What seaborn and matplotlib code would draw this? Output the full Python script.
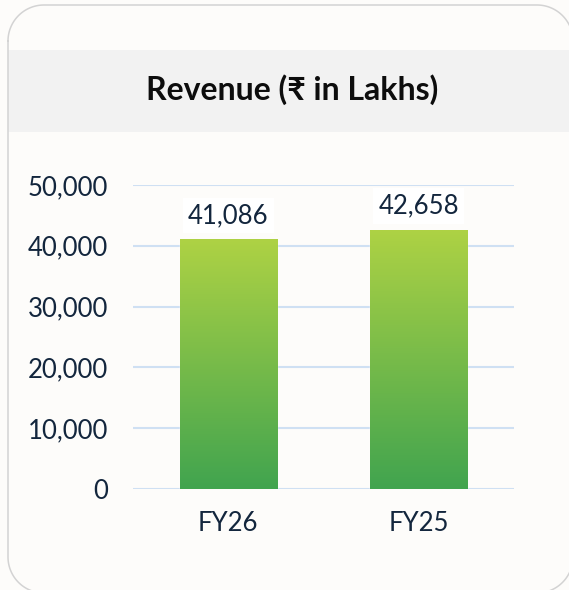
import numpy as np
import pandas as pd
import matplotlib
matplotlib.use("Agg")
import matplotlib.pyplot as plt
import seaborn as sns
from matplotlib.patches import Rectangle
from matplotlib.colors import LinearSegmentedColormap

categories = ["FY26", "FY25"]
revenue = [41086, 42658]
yticks = [0, 10000, 20000, 30000, 40000, 50000]
title = "Revenue (₹ in Lakhs)"

sns.set_theme(style="white")
plt.rcParams['font.family'] = ['Lato', 'DejaVu Sans']

TXT = "#13263d"
W, H = 569, 590
fig = plt.figure(figsize=(W / 100, H / 100), dpi=100)
fig.patch.set_facecolor("#fdfcfa")

# background axes in pixel units (y downwards)
bg = fig.add_axes([0, 0, 1, 1])
bg.set_xlim(0, W)
bg.set_ylim(H, 0)
bg.axis("off")
bg.add_patch(Rectangle((8.5, 50), W, 82, facecolor="#f2f2f2",
                       edgecolor="none", zorder=1))

# rounded card outline built from line segments and arcs
L, T, R, B, r = 8, 5, 573, 593, 36
def arc(cx, cy, a0, a1):
    t = np.radians(np.linspace(a0, a1, 30))
    return cx + r * np.cos(t), cy + r * np.sin(t)
xs, ys = [], []
for (cx, cy, a0, a1) in [(L + r, T + r, 180, 270), (R - r, T + r, 270, 360),
                         (R - r, B - r, 0, 90), (L + r, B - r, 90, 180)]:
    ax_, ay_ = arc(cx, cy, a0, a1)
    xs.extend(ax_)
    ys.extend(ay_)
xs.append(xs[0])
ys.append(ys[0])
bg.plot(xs, ys, color="#d3d3d3", lw=1.1, zorder=2, clip_on=False)

bg.text(292, 90, title, ha="center", va="center",
        fontsize=23, fontweight="bold", color="#0d0d0d")

ax = fig.add_axes([133 / W, (H - 489) / H, 381 / W, 304 / H])
ax.set_facecolor("none")
df = pd.DataFrame({"cat": categories, "rev": revenue})
sns.barplot(data=df, x="cat", y="rev", ax=ax, width=0.51,
            color="#7cbf4a", saturation=1, zorder=3)

ax.set_xlim(-0.5, 1.5)
ax.set_ylim(0, 50000)
ax.set_yticks(yticks)
ax.set_yticklabels([f"{v:,}" for v in yticks])
ax.set_xlabel("")
ax.set_ylabel("")
for s in ax.spines.values():
    s.set_visible(False)
ax.grid(axis="y", color="#cfe0f3", linewidth=1.5, zorder=1)
ax.set_axisbelow(True)
ax.tick_params(axis="y", length=0, pad=18, labelsize=18.5, labelcolor=TXT)
ax.tick_params(axis="x", length=0, pad=16, labelsize=18.5, labelcolor=TXT)

# gradient fill
cmap = LinearSegmentedColormap.from_list("g", ["#41a44f", "#aed244"])
grad = np.linspace(0, 1, 256).reshape(-1, 1)
for p in list(ax.patches):
    x0, w, h = p.get_x(), p.get_width(), p.get_height()
    im = ax.imshow(grad, cmap=cmap, origin="lower", aspect="auto",
                   extent=[x0, x0 + w, 0, h], zorder=4)
    im.set_clip_path(p)
    ax.annotate(f"{int(round(h)):,}", (x0 + w / 2, h), xytext=(0, 17),
                textcoords="offset points", ha="center", va="center",
                fontsize=18.5, color=TXT, zorder=6,
                bbox=dict(boxstyle="square,pad=0.2", fc="white", ec="none"))
ax.set_xlim(-0.5, 1.5)
ax.set_ylim(0, 50000)

fig.savefig("out.png", dpi=100, facecolor=fig.get_facecolor())
